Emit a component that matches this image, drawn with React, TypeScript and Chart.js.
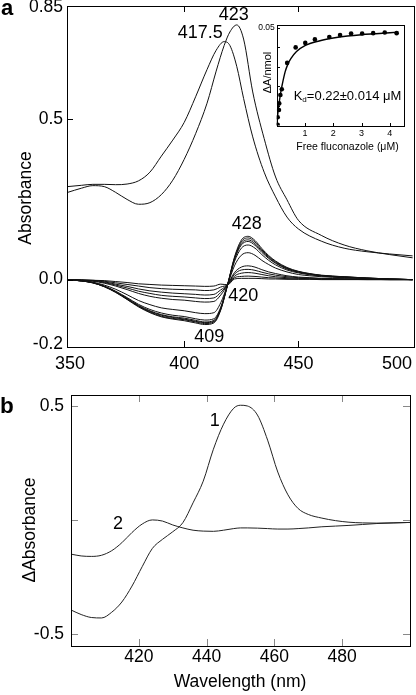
import React, { useEffect, useRef } from "react";
import { Chart, registerables } from "chart.js";
Chart.register(...registerables);

const FONT = "Arial, 'Liberation Sans', Helvetica, sans-serif";

// ---------- Panel a : absolute spectra ----------
const wavelengthsAbs = [349, 355, 360, 365, 370, 375, 380, 385, 390, 395, 400, 405, 410, 414, 417.5, 420, 423, 426, 430, 435, 440, 445, 450, 460, 470, 480, 490, 500];
const absPeak4175 = [0.290, 0.294, 0.297, 0.297, 0.296, 0.298, 0.308, 0.335, 0.385, 0.435, 0.490, 0.570, 0.655, 0.715, 0.742, 0.730, 0.665, 0.565, 0.445, 0.335, 0.258, 0.195, 0.158, 0.120, 0.098, 0.087, 0.080, 0.074];
const absPeak423 = [0.272, 0.285, 0.293, 0.290, 0.272, 0.250, 0.235, 0.240, 0.265, 0.310, 0.375, 0.455, 0.550, 0.650, 0.730, 0.772, 0.794, 0.750, 0.585, 0.440, 0.320, 0.249, 0.185, 0.138, 0.108, 0.090, 0.078, 0.068];

// ---------- Panel a : difference spectra (titration) ----------
const wavelengthsDiff = [349, 355, 360, 365, 370, 375, 380, 385, 390, 395, 400, 405, 409, 413, 416, 419, 422, 425, 428, 431, 434, 437, 440, 445, 450, 455, 460, 470, 480, 490, 500];
const diff1 = [0, -0.004, -0.010, -0.022, -0.040, -0.062, -0.085, -0.103, -0.116, -0.123, -0.128, -0.135, -0.140, -0.135, -0.095, -0.016, 0.070, 0.123, 0.135, 0.122, 0.097, 0.075, 0.058, 0.038, 0.026, 0.019, 0.014, 0.009, 0.005, 0.002, 0.000];
const diff2 = [0, -0.004, -0.010, -0.022, -0.039, -0.061, -0.083, -0.101, -0.114, -0.121, -0.125, -0.132, -0.137, -0.132, -0.093, -0.016, 0.067, 0.118, 0.130, 0.117, 0.093, 0.072, 0.056, 0.036, 0.025, 0.018, 0.013, 0.009, 0.005, 0.002, 0.000];
const diff3 = [0, -0.004, -0.010, -0.021, -0.038, -0.060, -0.082, -0.099, -0.111, -0.118, -0.123, -0.130, -0.134, -0.130, -0.091, -0.016, 0.064, 0.113, 0.124, 0.112, 0.089, 0.069, 0.053, 0.035, 0.024, 0.017, 0.013, 0.008, 0.005, 0.002, 0.000];
const diff4 = [0, -0.004, -0.009, -0.021, -0.038, -0.058, -0.080, -0.097, -0.109, -0.116, -0.120, -0.127, -0.132, -0.127, -0.089, -0.016, 0.062, 0.108, 0.119, 0.107, 0.085, 0.066, 0.051, 0.033, 0.023, 0.017, 0.012, 0.008, 0.004, 0.002, 0.000];
const diff5 = [0, -0.004, -0.009, -0.020, -0.036, -0.056, -0.077, -0.093, -0.104, -0.111, -0.115, -0.122, -0.126, -0.122, -0.086, -0.016, 0.056, 0.098, 0.108, 0.098, 0.078, 0.060, 0.046, 0.030, 0.021, 0.015, 0.011, 0.007, 0.004, 0.002, 0.000];
const diff6 = [0, -0.003, -0.008, -0.017, -0.030, -0.047, -0.065, -0.078, -0.088, -0.093, -0.097, -0.103, -0.106, -0.103, -0.072, -0.016, 0.043, 0.076, 0.084, 0.076, 0.060, 0.047, 0.036, 0.024, 0.016, 0.012, 0.009, 0.006, 0.003, 0.001, 0.000];
const diff7 = [0, -0.002, -0.005, -0.011, -0.020, -0.031, -0.043, -0.052, -0.058, -0.062, -0.064, -0.068, -0.070, -0.068, -0.048, -0.016, 0.022, 0.039, 0.043, 0.039, 0.031, 0.024, 0.019, 0.012, 0.008, 0.006, 0.004, 0.003, 0.002, 0.001, 0.000];
const diff8 = [0, -0.002, -0.004, -0.009, -0.017, -0.026, -0.036, -0.043, -0.049, -0.052, -0.054, -0.057, -0.059, -0.057, -0.040, -0.016, 0.017, 0.030, 0.032, 0.029, 0.023, 0.018, 0.014, 0.009, 0.006, 0.005, 0.003, 0.002, 0.001, 0.000, 0.000];
const diff9 = [0, -0.001, -0.003, -0.007, -0.014, -0.021, -0.029, -0.035, -0.039, -0.042, -0.044, -0.046, -0.048, -0.046, -0.032, -0.016, 0.011, 0.020, 0.022, 0.020, 0.016, 0.012, 0.009, 0.006, 0.004, 0.003, 0.002, 0.001, 0.001, 0.000, 0.000];
const diff10 = [0, -0.001, -0.002, -0.005, -0.010, -0.015, -0.020, -0.025, -0.028, -0.030, -0.031, -0.032, -0.034, -0.032, -0.023, -0.016, 0.006, 0.010, 0.011, 0.010, 0.008, 0.006, 0.005, 0.003, 0.002, 0.002, 0.001, 0.001, 0.000, 0.000, 0.000];
const diff11 = [0, -0.001, -0.002, -0.003, -0.006, -0.009, -0.013, -0.015, -0.017, -0.018, -0.019, -0.020, -0.021, -0.020, -0.014, -0.016, 0.002, 0.004, 0.004, 0.004, 0.003, 0.002, 0.002, 0.001, 0.001, 0.001, 0.000, 0.000, 0.000, 0.000, 0.000];
const diffSeries = [diff1, diff2, diff3, diff4, diff5, diff6, diff7, diff8, diff9, diff10, diff11];

const xTicksA = [350, 400, 450, 500];
const xLabelsA = ["350", "400", "450", "500"];
const yTicksA = [-0.2, 0, 0.5, 0.85];
const yLabelsA = ["-0.2", "0.0", "0.5", "0.85"];

// ---------- Inset : binding curve ----------
const freeConc = [0.035, 0.035, 0.08, 0.09, 0.13, 0.18, 0.37, 0.67, 1.01, 1.35, 1.86, 2.24, 2.63, 3.02, 3.41, 3.82, 4.24];
const dAperNmol = [0.0003, 0.0042, 0.0079, 0.0113, 0.0156, 0.0185, 0.0320, 0.0399, 0.0422, 0.0440, 0.0452, 0.0462, 0.0470, 0.0470, 0.0472, 0.0475, 0.0472];
const fitConc = [0, 0.05, 0.1, 0.15, 0.2, 0.3, 0.4, 0.5, 0.7, 1.0, 1.5, 2.0, 2.5, 3.0, 3.5, 4.0, 4.3];
const fitVals = [0, 0.0075, 0.0130, 0.0175, 0.0212, 0.0275, 0.0315, 0.0342, 0.0378, 0.0408, 0.0432, 0.0447, 0.0457, 0.0464, 0.0469, 0.0474, 0.0477];
const xTicksI = [1, 2, 3, 4];
const yTicksI = [0, 0.01, 0.02, 0.03, 0.04, 0.05];
const yLabelsI = ["", "", "", "", "", "0.05"];

// ---------- Panel b : difference spectra ----------
const wavelengthsB = [400, 403, 406, 409, 412, 415, 418, 421, 424, 427, 430, 433, 436, 439, 442, 445, 448, 450, 452, 455, 458, 461, 464, 467, 470, 474, 478, 482, 486, 490, 495, 500];
const spectrum1 = [-0.395, -0.415, -0.428, -0.430, -0.405, -0.360, -0.290, -0.205, -0.125, -0.085, -0.052, -0.012, 0.075, 0.170, 0.310, 0.420, 0.490, 0.503, 0.500, 0.460, 0.350, 0.210, 0.110, 0.050, 0.024, 0.008, -0.003, -0.010, -0.013, -0.014, -0.013, -0.011];
const spectrum2 = [-0.150, -0.158, -0.160, -0.155, -0.135, -0.100, -0.055, -0.018, 0.000, -0.005, -0.022, -0.035, -0.045, -0.049, -0.050, -0.045, -0.038, -0.035, -0.035, -0.036, -0.038, -0.040, -0.040, -0.038, -0.035, -0.030, -0.027, -0.024, -0.020, -0.016, -0.013, -0.011];
const xTicksB = [420, 440, 460, 480];
const yTicksB = [-0.5, 0, 0.5];
const yLabelsB = ["-0.5", "", "0.5"];

type Anch = { text: string; x: number; y: number; dx: number; dy: number };
type Txt = { text: string; x: number; y: number; font: string; align?: CanvasTextAlign; baseline?: CanvasTextBaseline; rotate?: boolean };

function decor(o: any) {
  return {
    id: o.id,
    afterDraw(chart: any) {
      const { ctx, chartArea: ca, scales } = chart;
      const xs = scales.x, ys = scales.y;
      const L = Math.round(ca.left), R = Math.round(ca.right), T = Math.round(ca.top), B = Math.round(ca.bottom);
      ctx.save();
      ctx.lineWidth = 1;
      ctx.strokeStyle = o.tickColor;
      ctx.beginPath();
      for (const v of o.xMarks) {
        const px = Math.round(xs.getPixelForValue(v)) + 0.5;
        if (px - L < o.edge || R - px < o.edge) continue;
        if (o.bottom) { ctx.moveTo(px, B); ctx.lineTo(px, B - o.tickLen); }
        if (o.top) { ctx.moveTo(px, T); ctx.lineTo(px, T + o.tickLen); }
      }
      for (const v of o.yMarks) {
        const py = Math.round(ys.getPixelForValue(v)) + 0.5;
        if (py - T < o.edge || B - py < o.edge) continue;
        if (o.left) { ctx.moveTo(L, py); ctx.lineTo(L + o.tickLen, py); }
        if (o.right) { ctx.moveTo(R, py); ctx.lineTo(R - o.tickLen, py); }
      }
      ctx.stroke();
      ctx.strokeStyle = "#000";
      ctx.strokeRect(L + 0.5, T + 0.5, R - L, B - T);
      ctx.fillStyle = "#000";
      if (o.xLabels) {
        ctx.font = o.xLabels.font;
        ctx.textAlign = "center";
        ctx.textBaseline = "middle";
        o.xLabels.values.forEach((v: number, i: number) => {
          const t = o.xLabels.labels[i];
          const w = ctx.measureText(t).width;
          let px = xs.getPixelForValue(v);
          px = Math.min(px, chart.width - 4 - w / 2);
          px = Math.max(px, 4 + w / 2);
          ctx.fillText(t, px, o.xLabels.y);
        });
      }
      (o.anchored || []).forEach((a: Anch) => {
        ctx.font = o.anchFont;
        ctx.textAlign = "center";
        ctx.textBaseline = "middle";
        ctx.fillText(a.text, xs.getPixelForValue(a.x) + a.dx, ys.getPixelForValue(a.y) + a.dy);
      });
      (o.texts || []).forEach((t: Txt) => {
        ctx.save();
        ctx.font = t.font;
        ctx.textAlign = t.align || "center";
        ctx.textBaseline = t.baseline || "alphabetic";
        if (t.rotate) {
          ctx.translate(t.x, t.y);
          ctx.rotate(-Math.PI / 2);
          ctx.fillText(t.text, 0, 0);
        } else {
          ctx.fillText(t.text, t.x, t.y);
        }
        ctx.restore();
      });
      if (o.kd) {
        const k = o.kd;
        ctx.textAlign = "left";
        ctx.textBaseline = "alphabetic";
        ctx.font = `${k.size}px ${FONT}`;
        ctx.fillText(k.main, k.x, k.y);
        let x = k.x + ctx.measureText(k.main).width;
        ctx.font = `${k.size * 0.62}px ${FONT}`;
        ctx.fillText(k.sub, x, k.y + 2.5);
        x += ctx.measureText(k.sub).width;
        ctx.font = `${k.size}px ${FONT}`;
        ctx.fillText(k.rest, x, k.y);
      }
      ctx.restore();
    },
  };
}

const lineDs = (xs: number[], ys: number[], color = "#111", width = 1) => ({
  data: xs.map((x, i) => ({ x, y: ys[i] })),
  borderColor: color,
  borderWidth: width,
  pointRadius: 0,
  fill: false,
  cubicInterpolationMode: "monotone" as const,
});

const baseOpts = (padding: any, x: any, y: any) => ({
  animation: false as const,
  responsive: false,
  maintainAspectRatio: false,
  events: [] as any[],
  layout: { padding },
  plugins: { legend: { display: false }, tooltip: { enabled: false }, title: { display: false } },
  scales: { x, y },
});

export default function App() {
  const refA = useRef<HTMLCanvasElement>(null);
  const refI = useRef<HTMLCanvasElement>(null);
  const refB = useRef<HTMLCanvasElement>(null);

  useEffect(() => {
    const chartA = new Chart(refA.current as HTMLCanvasElement, {
      type: "line",
      data: {
        datasets: [
          lineDs(wavelengthsAbs, absPeak4175),
          lineDs(wavelengthsAbs, absPeak423),
          ...diffSeries.map((s) => lineDs(wavelengthsDiff, s)),
        ] as any,
      },
      options: baseOpts(
        { left: 0, right: 2, top: 6, bottom: 0 },
        {
          type: "linear", min: 348.7, max: 500.6,
          grid: { display: false, drawTicks: false }, border: { display: false },
          ticks: { display: false },
          afterBuildTicks: (s: any) => { s.ticks = xTicksA.map((v) => ({ value: v })); },
          afterFit: (s: any) => { s.height = 33; s.paddingLeft = 0; s.paddingRight = 0; },
        },
        {
          type: "linear", min: -0.21, max: 0.853,
          grid: { display: false, drawTicks: false }, border: { display: false },
          ticks: { color: "#000", font: { family: FONT, size: 17.5 }, padding: 4, callback: (_v: any, i: number) => yLabelsA[i] },
          afterBuildTicks: (s: any) => { s.ticks = yTicksA.map((v) => ({ value: v })); },
          afterFit: (s: any) => { s.width = 67; s.paddingTop = 0; s.paddingBottom = 0; },
        }
      ) as any,
      plugins: [
        decor({
          id: "decorA", tickLen: 6, tickColor: "#000", edge: 4,
          xMarks: xTicksA, yMarks: yTicksA, top: true, bottom: true, left: true, right: false,
          xLabels: { values: xTicksA, labels: xLabelsA, y: 364, font: `18px ${FONT}` },
          anchFont: `18px ${FONT}`,
          anchored: [
            { text: "423", x: 423, y: 0.794, dx: -3, dy: -10 },
            { text: "417.5", x: 417.5, y: 0.742, dx: -24, dy: -9 },
            { text: "428", x: 427.4, y: 0.135, dx: 0, dy: -12 },
            { text: "420", x: 419.5, y: -0.016, dx: 14.5, dy: 11.5 },
            { text: "409", x: 409, y: -0.14, dx: 4.5, dy: 12 },
          ],
          texts: [
            { text: "a", x: 1, y: 15, font: `bold 22px ${FONT}`, align: "left" },
            { text: "Absorbance", x: 31, y: 198, font: `17.5px ${FONT}`, rotate: true },
          ],
        }),
      ],
    });

    const chartI = new Chart(refI.current as HTMLCanvasElement, {
      type: "line",
      data: {
        datasets: [
          { ...lineDs(fitConc, fitVals, "#000", 1.4) },
          {
            data: freeConc.map((x, i) => ({ x, y: dAperNmol[i] })),
            showLine: false,
            pointRadius: 2.3,
            pointBackgroundColor: "#000",
            pointBorderWidth: 0,
            borderColor: "#000",
          },
        ] as any,
      },
      options: baseOpts(
        { left: 0, right: 12, top: 15.3, bottom: 0 },
        {
          type: "linear", min: 0, max: 4.5,
          grid: { display: false, drawTicks: false }, border: { display: false },
          ticks: { color: "#000", font: { family: FONT, size: 9 }, padding: 3, callback: (v: any) => String(v) },
          afterBuildTicks: (s: any) => { s.ticks = xTicksI.map((v) => ({ value: v })); },
          afterFit: (s: any) => { s.height = 34.5; s.paddingLeft = 0; s.paddingRight = 0; },
        },
        {
          type: "linear", min: 0, max: 0.0512,
          grid: { display: false, drawTicks: false }, border: { display: false },
          ticks: { color: "#000", font: { family: FONT, size: 8.5 }, padding: 2, callback: (_v: any, i: number) => yLabelsI[i] },
          afterBuildTicks: (s: any) => { s.ticks = yTicksI.map((v) => ({ value: v })); },
          afterFit: (s: any) => { s.width = 40.7; s.paddingTop = 0; s.paddingBottom = 0; },
        }
      ) as any,
      plugins: [
        decor({
          id: "decorI", tickLen: 3, tickColor: "#000", edge: 1,
          xMarks: xTicksI, yMarks: yTicksI, top: false, bottom: true, left: true, right: false,
          texts: [
            { text: "Free fluconazole (\u03bcM)", x: 111.5, y: 137, font: `10.5px ${FONT}`, baseline: "middle" },
            { text: "\u0394A/nmol", x: 34.7, y: 62.5, font: `11px ${FONT}`, rotate: true },
          ],
          kd: { x: 57.7, y: 89.7, size: 13, main: "K", sub: "d", rest: "=0.22\u00b10.014 \u03bcM" },
        }),
      ],
    });

    const chartB = new Chart(refB.current as HTMLCanvasElement, {
      type: "line",
      data: {
        datasets: [lineDs(wavelengthsB, spectrum1, "#222"), lineDs(wavelengthsB, spectrum2, "#222")] as any,
      },
      options: baseOpts(
        { left: 0, right: 6, top: 15, bottom: 0 },
        {
          type: "linear", min: 400, max: 500,
          grid: { display: false, drawTicks: false }, border: { display: false },
          ticks: { color: "#000", font: { family: FONT, size: 17.5 }, padding: 1, callback: (v: any) => String(v) },
          afterBuildTicks: (s: any) => { s.ticks = xTicksB.map((v) => ({ value: v })); },
          afterFit: (s: any) => { s.height = 49; s.paddingLeft = 0; s.paddingRight = 0; },
        },
        {
          type: "linear", min: -0.553, max: 0.548,
          grid: { display: false, drawTicks: false }, border: { display: false },
          ticks: { color: "#000", font: { family: FONT, size: 17.5 }, padding: 7, callback: (_v: any, i: number) => yLabelsB[i] },
          afterBuildTicks: (s: any) => { s.ticks = yTicksB.map((v) => ({ value: v })); },
          afterFit: (s: any) => { s.width = 71; s.paddingTop = 0; s.paddingBottom = 0; },
        }
      ) as any,
      plugins: [
        decor({
          id: "decorB", tickLen: 7, tickColor: "#888", edge: 4,
          xMarks: xTicksB, yMarks: yTicksB, top: true, bottom: true, left: true, right: true,
          anchFont: `18px ${FONT}`,
          anchored: [
            { text: "1", x: 450.7, y: 0.504, dx: -28, dy: 16 },
            { text: "2", x: 424.8, y: 0, dx: -37, dy: 4 },
          ],
          texts: [
            { text: "b", x: 0, y: 33, font: `bold 22.5px ${FONT}`, align: "left" },
            { text: "\u0394Absorbance", x: 35, y: 150, font: `17.5px ${FONT}`, rotate: true },
            { text: "Wavelength (nm)", x: 240, y: 307, font: `17.5px ${FONT}` },
          ],
        }),
      ],
    });

    return () => {
      chartA.destroy();
      chartI.destroy();
      chartB.destroy();
    };
  }, []);

  return (
    <div style={{ position: "absolute", left: 0, top: 0, width: 416, height: 695, background: "#fff", overflow: "hidden" }}>
      <canvas ref={refA} width={416} height={380} style={{ position: "absolute", left: 0, top: 0 }} />
      <canvas ref={refB} width={416} height={315} style={{ position: "absolute", left: 0, top: 380 }} />
      <canvas ref={refI} width={180} height={150} style={{ position: "absolute", left: 236, top: 10 }} />
    </div>
  );
}
